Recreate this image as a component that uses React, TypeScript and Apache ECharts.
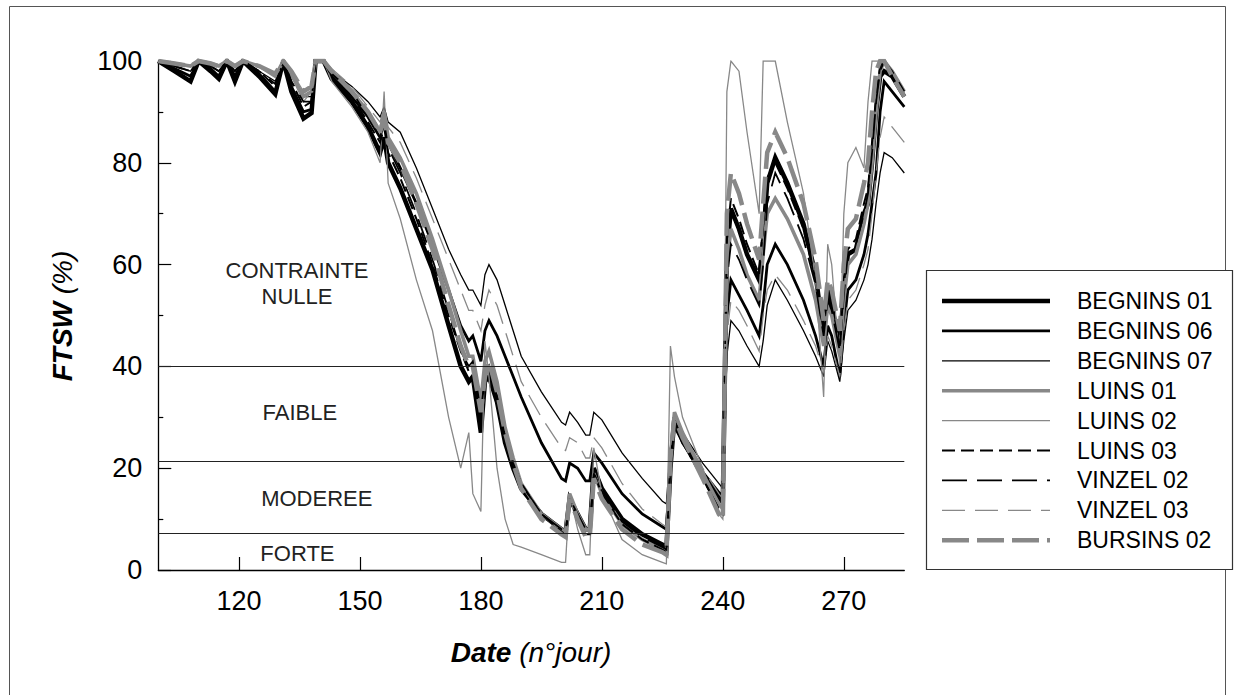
import React, { useEffect, useRef } from "react";
import * as echarts from "echarts";

const DAYS = [100,104,108,110,113,115,117,119,121,125,
 129,131,133,136,138,139,141,143,148,152,
 155,156,157,160,164,168,172,175,177,178,
 180,181,182,184,186,188,190,195,200,201,
 202,204,206,207,208,210,215,220,225,226,
 227,228,230,235,239,240,241,242,244,246,
 249,250,251,253,256,260,263,265,266,267,
 269,270,271,273,275,276,277,278,279,280,
 282,285];

const BEGNINS_01 = [100,98,96,100,98,96.5,100,96,100,97,
 93.5,100,94,88.7,89.8,100,100,96.5,92,87,
 82,85,80,75,67,59,48,40,37,38,
 27,37,38,33,25,20,16,11,8,7.5,
 14,11,8,8,20,16,10,7,5,4,
 20,30,26,19,15,14,62,71,67,62,
 57,65,76,81,76,68,58,46,55,52,
 44,55,62,63,70,72,80,90,97,98,
 97,93];
const BEGNINS_06 = [100,98.5,97,100,98.5,97,100,97,100,97.5,
 94,100,95,90,90.5,100,100,97,93,89,
 85,88,84,79,72,64,55,48,45,46,
 41,47,49,46,42,38,34,25,18,17.5,
 21,20,17.5,17.5,23,21,15,11,8.5,8,
 22,29,25,19,14,13,50,57,54,51,
 46,52,60,64,60,53,46,40,48,46,
 38,48,55,57,62,66,72,78,90,96,
 94,91];
const BEGNINS_07 = [100,99,98,100,99,98,100,98,100,98,
 96,100,97,93,93,100,100,98,95,92,
 89,91,88,86,79,71,63,58,55,55,
 52,58,60,57,52,47,42,35,29,28.5,
 31,29,26.5,26.5,31,29.5,23,18,13.5,13,
 24,29,27,21,17,16,42,49,47,44,
 40,45,52,57,53,47,42,38,45,43,
 37,45,51,53,57,60,65,72,78,82,
 81,78];
const LUINS_01 = [100,99.5,99,100,99.5,99,100,99,100,99,
 97,100,97.5,93,94,100,100,98,94,90,
 86,90,85,81,74,65,55,47,42,42,
 33,41,43,37,28,22,17,11,8,7.5,
 15,11,8,8,19,15,9,6,4,3.5,
 22,31,27,19,13,12,60,67,63,58,
 53,62,70,73,69,62,53,44,52,50,
 42,53,60,62,68,72,80,90,98,100,
 98,94];
const LUINS_02 = [100,99.5,99,100,99.5,99,100,99,100,99,
 97,100,97,92,94,100,100,96,91,86,
 80,94,76,69,57,47,30,20,27,15,
 11.5,45,38,20,10,5,4.5,3,1.5,1.5,
 15,8,3,3,24,15,6,3,1.5,1.2,
 44,38,30,20,11,10,94,100,98,86,
 70,100,100,100,88,74,57,34,64,60,
 40,70,80,83,79,92,100,100,100,100,
 98,93];
const LUINS_03 = [100,99,98,100,99,98,100,98,100,98,
 95,100,96,91,92,100,100,97,93,88,
 84,87,82,77,69,60,50,43,39,40,
 30,38,40,34,26,21,17,11,7.5,7,
 14,10,7,7,19,15,9,6,4,3.5,
 21,29,25,18,12,11,65,73,69,64,
 58,68,77,80,75,67,57,47,55,53,
 44,56,63,65,72,75,84,93,99,100,
 97,93];
const VINZEL_02 = [100,99,98,100,99,98,100,98,100,98,
 95.5,100,96,92,92,100,100,97.5,94,89,
 85,88,83,78,70,61,51,43,40,41,
 31,38,40,34,26,21,17,11,8,7.5,
 14,11,8,8,19,15.5,9.5,6.5,4.5,4,
 21,28,25,18,12,11,57,64,61,57,
 52,60,72,78,73,65,56,46,53,51,
 43,54,62,64,70,74,82,92,98,100,
 98,94];
const VINZEL_03 = [100,99.5,99,100,99.5,99,100,99,100,99,
 97,100,98,94,95,100,100,98.5,95,91,
 88,91,87,84,77,69,61,55,51,51,
 47,52,55,52,47,42,37,30,24,23.5,
 26,25,22,22,26,24,17,12,9,8.5,
 24,30,27,20,15,14,46,53,51,48,
 43,50,55,58,55,49,44,39,46,44,
 38,47,53,55,60,63,70,78,85,89,
 87,84];
const BURSINS_02 = [100,99.5,99,100,99.5,99,100,99,100,99,
 97.5,100,98,94,95,100,100,98,94,90,
 86,89,84,80,72,63,52,44,40,40,
 31,38,41,35,27,21,16,10,7,6.5,
 14,10,6.5,6.5,18,14,8,5,3.5,3,
 22,30,26,18,11,10,70,78,74,68,
 61,72,82,86,81,72,61,49,57,55,
 47,60,67,69,76,80,90,98,100,100,
 97,93];

const SERIES_NAMES = ["BEGNINS 01","BEGNINS 06","BEGNINS 07","LUINS 01","LUINS 02","LUINS 03","VINZEL 02","VINZEL 03","BURSINS 02"];
const SERIES_VALUES = [BEGNINS_01,BEGNINS_06,BEGNINS_07,LUINS_01,LUINS_02,LUINS_03,VINZEL_02,VINZEL_03,BURSINS_02];

const X_TICKS = [120,150,180,210,240,270];
const THRESHOLDS = [40, 21.3, 7.2];
const ZONE_LABELS = ["CONTRAINTE\nNULLE","FAIBLE","MODEREE","FORTE"];
const ZONE_POS = [[134.4,56.2],[135.1,30.9],[139.3,14.1],[134.5,3.3]];

const BLACK = "#000000";
const GRAY = "#888888";
const FONT = "'Liberation Sans', Arial, sans-serif";

const STYLES: { color: string; width: number; dash: number[] | "solid" }[] = [
  { color: BLACK, width: 4.5, dash: "solid" },
  { color: BLACK, width: 2.8, dash: "solid" },
  { color: BLACK, width: 1.3, dash: "solid" },
  { color: GRAY, width: 3.6, dash: "solid" },
  { color: GRAY, width: 1.3, dash: "solid" },
  { color: BLACK, width: 2.0, dash: [13, 6] },
  { color: BLACK, width: 1.8, dash: [25, 10] },
  { color: GRAY, width: 1.3, dash: [23, 10] },
  { color: GRAY, width: 4.5, dash: [27, 8] },
];

export default function App() {
  const ref = useRef<HTMLDivElement>(null);
  useEffect(() => {
    const chart = echarts.init(ref.current!, null, { renderer: "svg" });

    const lineSeries = SERIES_NAMES.map((name, k) => ({
      name,
      type: "line",
      symbol: "none",
      silent: true,
      data: DAYS.map((d, i) => [d, SERIES_VALUES[k][i]]),
      lineStyle: {
        color: STYLES[k].color,
        width: STYLES[k].width,
        type: STYLES[k].dash,
        cap: "butt",
        join: "miter",
      },
      z: 3,
    }));

    const legendTop = 301;
    const legendStep = 29.9;
    const legendItems: any[] = [];
    SERIES_NAMES.forEach((name, k) => {
      const y = legendTop + k * legendStep;
      legendItems.push({
        type: "line",
        shape: { x1: 942, y1: y, x2: 1050, y2: y },
        style: {
          stroke: STYLES[k].color,
          lineWidth: STYLES[k].width,
          lineDash: STYLES[k].dash === "solid" ? null : STYLES[k].dash,
          lineCap: "butt",
        },
      });
      legendItems.push({
        type: "text",
        x: 1077,
        y: y,
        style: {
          text: name,
          fontSize: 23,
          fontFamily: FONT,
          fill: "#000",
          verticalAlign: "middle",
          align: "left",
        },
      });
    });

    const titleRich = {
      b: { fontSize: 28, fontWeight: "bold", fontStyle: "italic", fontFamily: FONT, fill: "#000" },
      i: { fontSize: 28, fontStyle: "italic", fontFamily: FONT, fill: "#000" },
    };

    const option: any = {
      animation: false,
      backgroundColor: "#ffffff",
      grid: { left: 158.3, top: 61, right: 329.7, bottom: 125, containLabel: false },
      xAxis: {
        type: "value",
        min: 100,
        max: 285,
        axisLine: { show: true, onZero: false, lineStyle: { color: "#000", width: 1.3 } },
        axisTick: { show: true, inside: true, length: 13, customValues: X_TICKS, lineStyle: { color: "#000", width: 1.2 } },
        axisLabel: { show: true, customValues: X_TICKS, fontSize: 27, fontFamily: FONT, color: "#000", margin: 17 },
        splitLine: { show: false },
      },
      yAxis: {
        type: "value",
        min: 0,
        max: 100,
        interval: 20,
        axisLine: { show: true, lineStyle: { color: "#000", width: 1.3 } },
        axisTick: { show: true, inside: true, length: 13, lineStyle: { color: "#000", width: 1.2 } },
        minorTick: { show: true, splitNumber: 2, length: 5, lineStyle: { color: "#000", width: 1.2 } },
        axisLabel: { fontSize: 27, fontFamily: FONT, color: "#000", margin: 16 },
        splitLine: { show: false },
        minorSplitLine: { show: false },
      },
      series: [
        {
          name: "zones",
          type: "scatter",
          silent: true,
          symbolSize: 1,
          itemStyle: { color: "rgba(0,0,0,0)", opacity: 1 },
          data: ZONE_LABELS.map((t, i) => ({ name: t, value: ZONE_POS[i] })),
          label: {
            show: true,
            position: "inside",
            formatter: "{b}",
            fontSize: 22,
            lineHeight: 26,
            fontFamily: FONT,
            color: "#222",
            opacity: 1,
            textBorderWidth: 0,
            align: "center",
          },
          markLine: {
            silent: true,
            symbol: ["none", "none"],
            label: { show: false },
            lineStyle: { color: "#222", type: "solid", width: 1.2 },
            data: THRESHOLDS.map((v) => ({ yAxis: v })),
          },
          z: 2,
        },
        ...lineSeries,
      ],
      graphic: [
        {
          type: "rect",
          shape: { x: 9.5, y: 6.5, width: 1216, height: 700 },
          style: { fill: "none", stroke: "#555", lineWidth: 1 },
          silent: true,
        },
        {
          type: "rect",
          shape: { x: 926.5, y: 270.5, width: 306, height: 299 },
          style: { fill: "#fff", stroke: "#333", lineWidth: 1.2 },
          silent: true,
        },
        ...legendItems,
        {
          type: "text",
          x: 62,
          y: 316,
          rotation: Math.PI / 2,
          style: { text: "{b|FTSW}{i| (%)}", align: "center", verticalAlign: "middle", rich: titleRich },
        },
        {
          type: "text",
          x: 531,
          y: 652,
          style: { text: "{b|Date}{i| (n°jour)}", align: "center", verticalAlign: "middle", rich: titleRich },
        },
      ],
    };

    chart.setOption(option);
    return () => chart.dispose();
  }, []);

  return (
    <div
      ref={ref}
      style={{ position: "absolute", left: 0, top: 0, width: 1234, height: 695 }}
    />
  );
}
